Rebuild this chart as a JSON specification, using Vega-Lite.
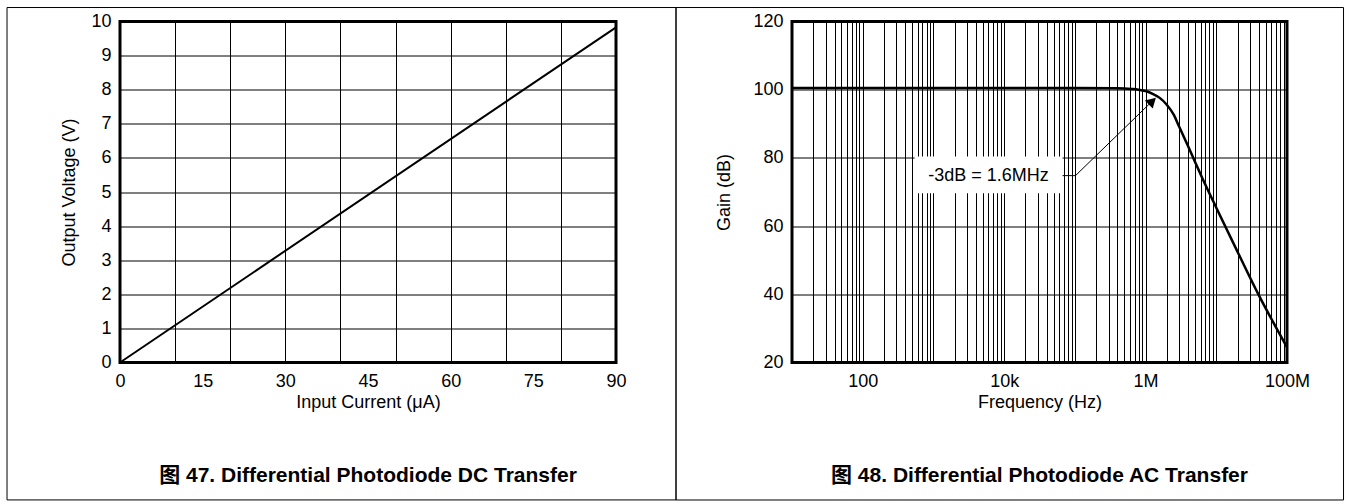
{
  "$schema": "https://vega.github.io/schema/vega-lite/v6.json",
  "background": "white",
  "padding": {"left": 5, "top": 5.5, "right": 4, "bottom": 3},
  "bounds": "flush",
  "spacing": 176,
  "config": {
    "font": "Liberation Sans, Noto Sans CJK SC",
    "view": {"stroke": "black", "strokeWidth": 3},
    "axis": {
      "domain": false,
      "ticks": false,
      "grid": true,
      "gridColor": "black",
      "gridOpacity": 1,
      "gridWidth": 1,
      "labelFont": "Liberation Sans",
      "labelFontSize": 18,
      "labelColor": "black",
      "labelFlush": false,
      "labelOverlap": false,
      "titleFont": "Liberation Sans",
      "titleFontSize": 18,
      "titleFontWeight": "normal",
      "titleColor": "black"
    },
    "axisX": {"labelPadding": 10, "titlePadding": 3},
    "axisY": {"labelPadding": 9},
    "title": {"font": "Liberation Sans, Noto Sans CJK SC", "fontSize": 21, "fontWeight": "bold", "color": "black"}
  },
  "hconcat": [
    {
      "width": 496,
      "height": 341,
      "title": {"text": "图 47. Differential Photodiode DC Transfer", "orient": "bottom", "anchor": "middle", "baseline": "top", "offset": -35},
      "encoding": {
        "x": {"field": "i", "type": "quantitative", "title": "Input Current (μA)",
          "scale": {"domain": [0, 90], "nice": false, "zero": false},
          "axis": {"values": [0, 10, 15, 20, 30, 40, 45, 50, 60, 70, 75, 80, 90],
            "labelExpr": "datum.value % 15 === 0 ? datum.label : ''",
            "gridOpacity": {"condition": {"test": "datum.value % 10 === 0", "value": 1}, "value": 0}}},
        "y": {"field": "v", "type": "quantitative", "title": "Output Voltage (V)",
          "scale": {"domain": [0, 10], "nice": false, "zero": false},
          "axis": {"values": [0, 1, 2, 3, 4, 5, 6, 7, 8, 9, 10], "titlePadding": 12}}
      },
      "layer": [
        {
          "data": {"values": [{"i": -20.5, "i2": 100.89, "v": 10.41, "v2": -4.03}]},
          "mark": {"type": "rect", "fillOpacity": 0, "stroke": "black", "strokeWidth": 1},
          "encoding": {"x2": {"field": "i2"}, "y2": {"field": "v2"}}
        },
        {
          "data": {"values": [{"i": 0, "v": 0}, {"i": 90, "v": 9.83}]},
          "mark": {"type": "line", "color": "black", "strokeWidth": 2}
        }
      ]
    },
    {
      "width": 495,
      "height": 341,
      "title": {"text": "图 48. Differential Photodiode AC Transfer", "orient": "bottom", "anchor": "middle", "baseline": "top", "offset": -35},
      "encoding": {
        "x": {"field": "f", "type": "quantitative", "title": "Frequency (Hz)",
          "scale": {"type": "log", "domain": [10, 100000000], "nice": false},
          "axis": {"values": [10,20,30,40,50,60,70,80,90,100,200,300,400,500,600,700,800,900,1000,2000,3000,4000,5000,6000,7000,8000,9000,10000,20000,30000,40000,50000,60000,70000,80000,90000,100000,200000,300000,400000,500000,600000,700000,800000,900000,1000000,2000000,3000000,4000000,5000000,6000000,7000000,8000000,9000000,10000000,20000000,30000000,40000000,50000000,60000000,70000000,80000000,90000000,100000000],
            "labelExpr": "datum.value == 100 ? '100' : datum.value == 10000 ? '10k' : datum.value == 1000000 ? '1M' : datum.value == 100000000 ? '100M' : ''"}},
        "y": {"field": "g", "type": "quantitative", "title": "Gain (dB)",
          "scale": {"domain": [20, 120], "nice": false, "zero": false},
          "axis": {"values": [20, 40, 60, 80, 100, 120], "titlePadding": 19}}
      },
      "layer": [
        {
          "data": {"values": [{"f": 0.2289, "f2": 630000000, "g": 124.1, "g2": -20.32}]},
          "mark": {"type": "rect", "fillOpacity": 0, "stroke": "black", "strokeWidth": 1},
          "encoding": {"x2": {"field": "f2"}, "y2": {"field": "g2"}}
        },
        {
          "data": {"values": [{"f": 542, "f2": 67000, "g": 80.4, "g2": 69.6}]},
          "mark": {"type": "rect", "fill": "white", "strokeWidth": 0},
          "encoding": {"x2": {"field": "f2"}, "y2": {"field": "g2"}}
        },
        {
          "data": {"values": [{"f": 6010, "g": 74.8, "label": "-3dB = 1.6MHz"}]},
          "mark": {"type": "text", "fontSize": 18, "font": "Liberation Sans", "color": "black", "baseline": "middle", "align": "center"},
          "encoding": {"text": {"field": "label"}}
        },
        {
          "data": {"values": [{"f":10,"g":100.5},{"f":100000,"g":100.5},{"f":398107,"g":100.4},{"f":630957,"g":100.2},{"f":794328,"g":100.0},{"f":1000000,"g":99.6},{"f":1258925,"g":98.8},{"f":1584893,"g":97.6},{"f":1995262,"g":95.6},{"f":2511886,"g":92.6},{"f":2978516,"g":89.2},{"f":3981072,"g":83.5},{"f":5011872,"g":78.8},{"f":6309573,"g":74.2},{"f":10000000,"g":65.4},{"f":19952623,"g":52.5},{"f":38904514,"g":40.2},{"f":100000000,"g":24.5}]},
          "mark": {"type": "line", "color": "black", "strokeWidth": 2.5, "interpolate": "monotone"}
        },
        {
          "data": {"values": [{"f": 67000, "g": 74.8}, {"f": 102000, "g": 74.8}, {"f": 1246000, "g": 96.66}]},
          "mark": {"type": "line", "color": "black", "strokeWidth": 1}
        },
        {
          "data": {"values": [{"f": 1246000, "g": 96.66}]},
          "mark": {"type": "point", "shape": "triangle-up", "angle": 46, "size": 130, "filled": true, "color": "black", "opacity": 1}
        }
      ]
    }
  ]
}
